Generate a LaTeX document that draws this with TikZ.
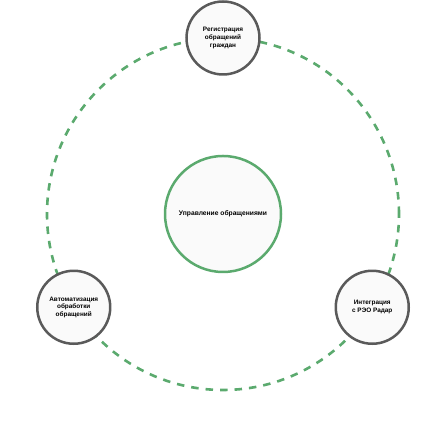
\documentclass[tikz,border=0pt]{standalone}
\usepackage{fontspec}
\setmainfont{Liberation Sans}
\definecolor{ringgreen}{HTML}{5BAA6E}
\definecolor{nodegray}{HTML}{5A5A5A}
\begin{document}
\begin{tikzpicture}[
  x=1pt, y=1pt,
  hub/.style={circle, draw=ringgreen, line width=2.5pt, fill=black!2,
              minimum size=116pt, inner sep=0pt, align=center,
              font=\fontsize{6.7}{8}\selectfont\bfseries},
  satellite/.style={circle, draw=nodegray, line width=2.5pt, fill=black!2,
                    minimum size=73pt, inner sep=0pt, align=center,
                    font=\fontsize{6.4}{7.6}\selectfont\bfseries},
  ring/.style={draw=ringgreen, line width=2.6pt, dash pattern=on 7.5pt off 7pt}
]
\useasboundingbox (0,0) rectangle (445,430);
\coordinate (center) at (223,216);
\draw[ring] (center) circle (176pt);
\node[hub] (main) at (center) {Управление обращениями};
\node[satellite] (reg) at ([shift={(90:176)}]center) {Регистрация\\обращений\\граждан};
\node[satellite] (auto) at ([shift={(212:176)}]center) {Автоматизация\\обработки\\обращений};
\node[satellite] (integ) at ([shift={(328:176)}]center) {Интеграция\\с РЭО Радар};
\end{tikzpicture}
\end{document}
